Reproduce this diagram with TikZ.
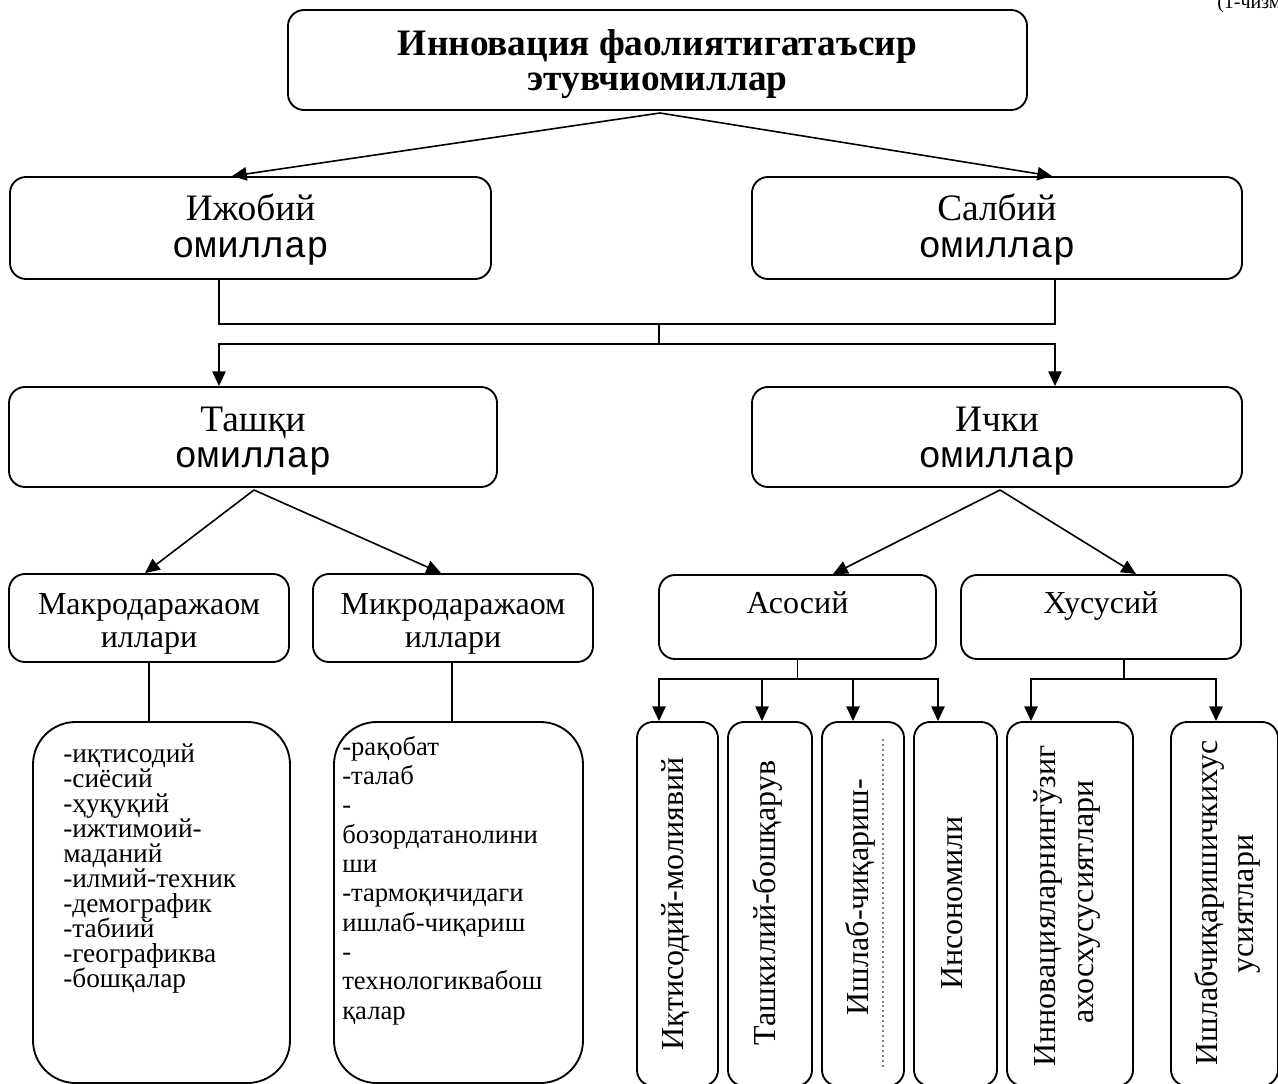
\documentclass[tikz,border=0pt]{standalone}
\usepackage{fontspec}
\setmainfont{Liberation Serif}
\setmonofont{Liberation Mono}
\usetikzlibrary{arrows.meta}
\begin{document}
\begin{tikzpicture}[x=0.75pt,y=-0.75pt,
  bx/.style={draw, line width=1.4pt, rounded corners=12pt, inner sep=0pt},
  lbx/.style={draw, line width=1.4pt, rounded corners=32pt, inner sep=0pt},
  ln/.style={line width=1.2pt},
  arr/.style={line width=1.2pt, -{Triangle[length=11pt,width=10pt]}},
  tb/.style={anchor=base, inner sep=0pt, font=\fontsize{28}{28}\selectfont\bfseries},
  t2/.style={anchor=base, inner sep=0pt, font=\fontsize{28}{28}\selectfont},
  m2/.style={anchor=base, inner sep=0pt, font=\fontsize{28}{28}\selectfont\ttfamily},
  t3/.style={anchor=base, inner sep=0pt, font=\fontsize{24}{24}\selectfont},
  vt/.style={anchor=base, inner sep=0pt, rotate=90, font=\fontsize{24}{24}\selectfont},
  listL/.style={anchor=base west, inner sep=0pt, font=\fontsize{20.5}{18.75}\selectfont},
  listR/.style={anchor=base west, inner sep=0pt, font=\fontsize{20}{22}\selectfont}
]
\useasboundingbox (0,0) rectangle (1278,1084);

% caption (cut off at the top and right edges)
\node[anchor=base west, inner sep=0pt, font=\fontsize{15}{15}\selectfont] (cap) at (1217,9) {(1-чизма)};

% level 1
\node[bx, minimum width=554.25pt, minimum height=75pt] (T) at (657.5,60) {};
\node[tb] (T1) at (657.5,56) {Инновация фаолиятигатаъсир};
\node[tb] (T2) at (657.5,91) {этувчиомиллар};

% level 2
\node[bx, minimum width=360.75pt, minimum height=76.5pt] (A) at (250.5,228) {};
\node[t2] (A1) at (250.5,221) {Ижобий};
\node[m2] (A2) at (250.5,258) {омиллар};
\node[bx, minimum width=367.5pt, minimum height=76.5pt] (B) at (997,228) {};
\node[t2] (B1) at (997,221) {Салбий};
\node[m2] (B2) at (997,258) {омиллар};

% level 3
\node[bx, minimum width=366pt, minimum height=75pt] (C) at (253,437) {};
\node[t2] (C1) at (253,431) {Ташқи};
\node[m2] (C2) at (253,467) {омиллар};
\node[bx, minimum width=367.5pt, minimum height=75pt] (D) at (997,437) {};
\node[t2] (D1) at (997,431) {Ички};
\node[m2] (D2) at (997,467) {омиллар};

% level 4
\node[bx, minimum width=210pt, minimum height=66pt] (E) at (149,618) {};
\node[t3] (E1) at (149,614) {Макродаражаом};
\node[t3] (E2) at (149,647) {иллари};
\node[bx, minimum width=210pt, minimum height=66pt] (F) at (453,618) {};
\node[t3] (F1) at (453,614) {Микродаражаом};
\node[t3] (F2) at (453,647) {иллари};
\node[bx, minimum width=207.75pt, minimum height=63pt] (G) at (797.5,617) {};
\node[t3] (G1) at (797.5,613) {Асосий};
\node[bx, minimum width=210pt, minimum height=63pt] (H) at (1101,617) {};
\node[t3] (H1) at (1101,613) {Хусусий};

% lists
\node[lbx, minimum width=192.75pt, minimum height=270.75pt] (L1) at (161.5,902.5) {};
\node[listL] (L1t) at (63,762)
  {\vtop{\lineskiplimit=-30pt\lineskip=0pt
   \hbox{-иқтисодий}\hbox{-сиёсий}\hbox{-ҳуқуқий}\hbox{-ижтимоий-}\hbox{маданий}%
   \hbox{-илмий-техник}\hbox{-демографик}\hbox{-табиий}\hbox{-географиква}\hbox{-бошқалар}}};
\node[lbx, minimum width=186.75pt, minimum height=270.75pt] (L2) at (458.5,902.5) {};
\node[listR] (L2t) at (342,755)
  {\vtop{\lineskiplimit=-30pt\lineskip=0pt
   \hbox{-рақобат}\hbox{-талаб}\hbox{-}\hbox{бозордатанолини}\hbox{ши}%
   \hbox{-тармоқичидаги}\hbox{ишлаб-чиқариш}\hbox{-}\hbox{технологиквабош}\hbox{қалар}}};

% vertical boxes
\node[bx, minimum width=60.75pt, minimum height=273pt] (V1) at (677.5,904) {};
\node[vt] (V1t) at (683,904) {Иқтисодий-молиявий};
\node[bx, minimum width=63pt, minimum height=273pt] (V2) at (770,904) {};
\node[vt] (V2t) at (775,903) {Ташкилий-бошқарув};
\node[bx, minimum width=61.5pt, minimum height=273pt] (V3) at (863,904) {};
\node[vt] (V3t) at (868,897) {Ишлаб-чиқариш-};
\draw[line width=0.8pt, gray, dash pattern=on 1.5pt off 2.2pt]
      ([shift={(20,18)}]V3.north) -- ([shift={(20,-18)}]V3.south);
\node[bx, minimum width=62.25pt, minimum height=273pt] (V4) at (955.5,904) {};
\node[vt] (V4t) at (962,903) {Инсономили};
\node[bx, minimum width=94.5pt, minimum height=273pt] (V5) at (1070,904) {};
\node[vt] (V5a) at (1055,906) {Инновацияларнингўзиг};
\node[vt] (V5b) at (1093,902) {ахосхусусиятлари};
\node[bx, minimum width=80.25pt, minimum height=273pt] (V6) at (1224.5,904) {};
\node[vt] (V6a) at (1217,903) {Ишлабчиқаришичкихус};
\node[vt] (V6b) at (1253,904) {усиятлари};

% connectors level 1 -> 2
\coordinate (apex) at (660,113);
\draw[arr] (apex) -- (232,0 |- A.north);
\draw[arr] (apex) -- (1052,0 |- B.north);

% level 2 -> 3
\coordinate (m1) at (659,324);
\coordinate (m2) at (659,344);
\draw[ln] (219,0 |- A.south) |- (m1) -| (1055,0 |- B.south);
\draw[ln] (m1) -- (m2);
\draw[arr] (m2) -| (219,0 |- C.north);
\draw[arr] (m2) -| (1055,0 |- D.north);

% level 3 -> 4
\coordinate (cC) at (254,490);
\coordinate (cD) at (1000,490);
\draw[arr] (cC) -- (145,0 |- E.north);
\draw[arr] (cC) -- (441,0 |- F.north);
\draw[arr] (cD) -- (833,0 |- G.north);
\draw[arr] (cD) -- (1136,0 |- H.north);

% level 4 -> lists
\draw[ln] (E.south) -- (E.south |- L1.north);
\draw[ln] (452,0 |- F.south) -- (452,0 |- L2.north);

% Асосий -> vertical boxes
\coordinate (g) at (797.5,679);
\draw[ln] (G.south) -- (g);
\draw[arr] (g) -| (659,0 |- V1.north);
\draw[arr] (g) -| (762,0 |- V2.north);
\draw[arr] (g) -| (853,0 |- V3.north);
\draw[arr] (g) -| (938,0 |- V4.north);

% Хусусий -> vertical boxes
\coordinate (h) at (1124,679);
\draw[ln] (1124,0 |- H.south) -- (h);
\draw[arr] (h) -| (1031,0 |- V5.north);
\draw[arr] (h) -| (1216,0 |- V6.north);
\end{tikzpicture}
\end{document}
